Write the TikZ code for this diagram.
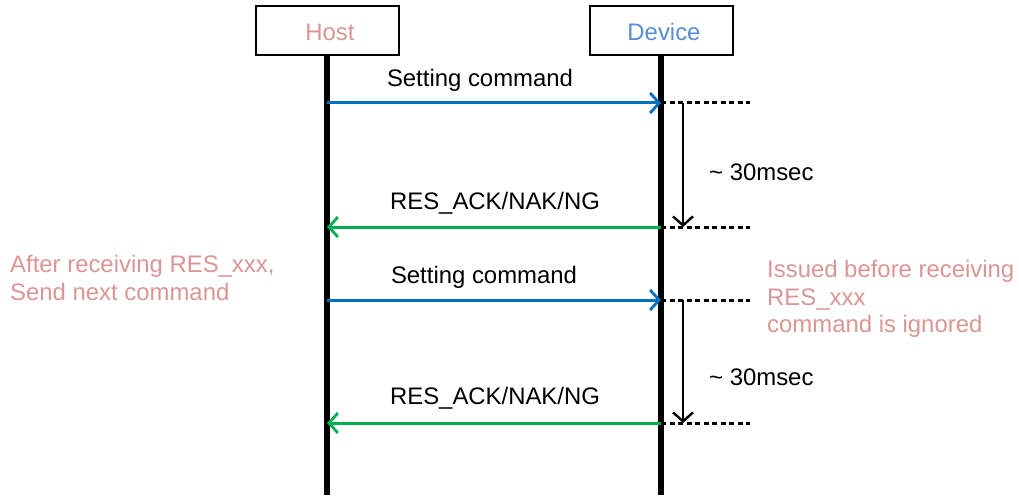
\documentclass[tikz,border=0pt]{standalone}
\usepackage{fontspec}
\setmainfont{Liberation Sans}
\usetikzlibrary{arrows.meta}
\definecolor{pinktxt}{HTML}{D99694}
\definecolor{devblue}{HTML}{558ED5}
\definecolor{cmdblue}{HTML}{0070C0}
\definecolor{resgreen}{HTML}{00B050}
\tikzset{
  actor/.style={draw=black, line width=2pt, fill=white, minimum width=143pt, minimum height=49pt, inner sep=0pt},
  lifeline/.style={line width=5.5pt},
  cmdarrow/.style={draw=cmdblue, line width=3pt, -{Straight Barb[length=9pt,width=20pt,line width=2.8pt]}},
  resarrow/.style={draw=resgreen, line width=3pt, -{Straight Barb[length=9pt,width=20pt,line width=2.8pt]}},
  guide/.style={line width=3pt, dash pattern=on 5pt off 3.5pt},
  timing/.style={line width=2.4pt, -{Straight Barb[length=9pt,width=20pt,line width=2.4pt]}},
  lbl/.style={font=\fontsize{23.9}{28}\selectfont, inner sep=0pt},
  note/.style={font=\fontsize{23.9}{27.5}\selectfont, text=pinktxt, align=left, inner sep=0pt, anchor=north west}
}
\begin{document}
\begin{tikzpicture}[x=1pt,y=-1pt]
\useasboundingbox (0,0) rectangle (1019,500);
% lifelines
\coordinate (hb) at (327,495);
\coordinate (db) at (661,495);
\node[actor] (host) at (327,31) {};
\node[actor] (dev) at (661,31) {};
\draw[lifeline] (host.south) -- (hb);
\draw[lifeline] (dev.south) -- (db);
\node[lbl, text=pinktxt] (hostt) at (330,32) {Host};
\node[lbl, text=devblue] (devt) at (664,32) {Device};
% message points
\coordinate (h1) at (327,103); \coordinate (d1) at (661,103); \coordinate (e1) at (750,103);
\coordinate (h2) at (327,227); \coordinate (d2) at (661,227); \coordinate (e2) at (750,227);
\coordinate (h3) at (327,300); \coordinate (d3) at (661,300); \coordinate (e3) at (750,300);
\coordinate (h4) at (327,423); \coordinate (d4) at (661,423); \coordinate (e4) at (750,423);
\coordinate (t1) at (683,103); \coordinate (t2) at (683,227);
\coordinate (t3) at (683,300); \coordinate (t4) at (683,423);
% guides
\draw[guide] (d1) -- (e1);
\draw[guide] (d2) -- (e2);
\draw[guide] (d3) -- (e3);
\draw[guide] (d4) -- (e4);
% timing arrows
\draw[timing] (t1) -- (t2);
\draw[timing] (t3) -- (t4);
\node[lbl, anchor=west] (ms1) at (709,172) {\textasciitilde{} 30msec};
\node[lbl, anchor=west] (ms2) at (709,377) {\textasciitilde{} 30msec};
% messages
\draw[cmdarrow] (h1) -- (d1);
\draw[resarrow] (d2) -- (h2);
\draw[cmdarrow] (h3) -- (d3);
\draw[resarrow] (d4) -- (h4);
\node[lbl] (m1) at (480,80) {Setting command};
\node[lbl] (m2) at (495,203) {RES\_ACK/NAK/NG};
\node[lbl] (m3) at (484,277) {Setting command};
\node[lbl] (m4) at (495,398) {RES\_ACK/NAK/NG};
% notes
\node[note] (n1) at (10,255) {After receiving RES\_xxx,\\Send next command};
\node[note] (n2) at (767,260) {Issued before receiving\\RES\_xxx\\command is ignored};
\end{tikzpicture}
\end{document}
